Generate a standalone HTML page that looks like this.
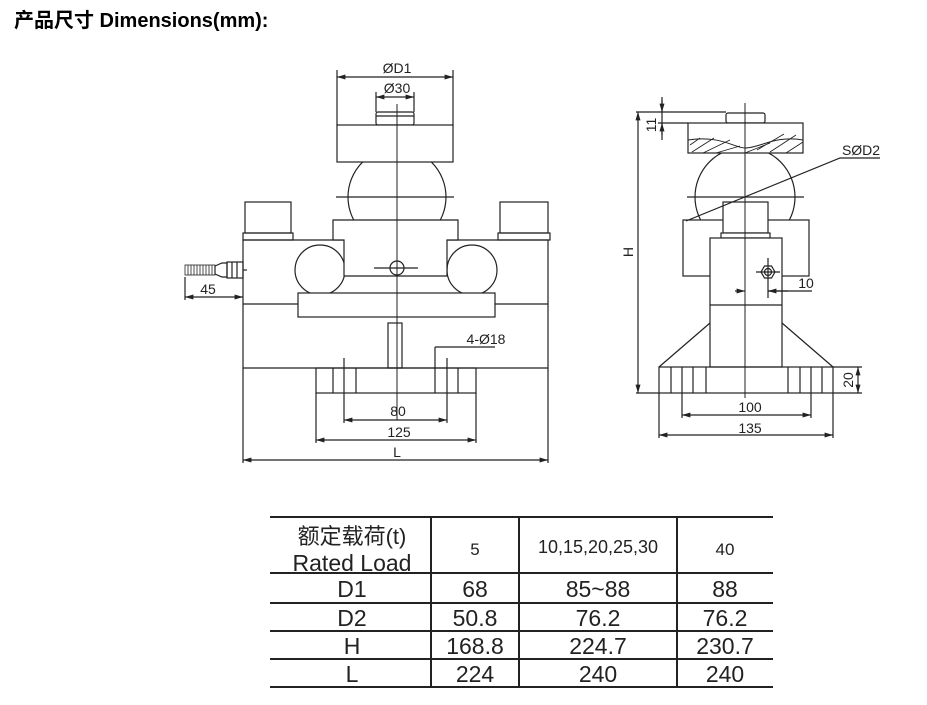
<!DOCTYPE html>
<html><head><meta charset="utf-8"><style>
html,body{margin:0;padding:0;background:#fff;width:927px;height:705px;overflow:hidden}
svg{display:block}
text{font-family:"Liberation Sans","Noto Sans CJK SC",sans-serif;fill:#222}
</style></head><body>
<svg width="927" height="705" viewBox="0 0 927 705" xmlns="http://www.w3.org/2000/svg">
<defs>
<marker id="a" viewBox="0 0 10 10" refX="10" refY="5" markerWidth="7" markerHeight="7" orient="auto-start-reverse"><path d="M0,2 L10,5 L0,8 z" fill="#222"/></marker>
</defs>
<text x="14" y="27" font-size="20" font-weight="bold" style="fill:#000">产品尺寸 Dimensions(mm):</text>

<g stroke="#222" stroke-width="1.2" fill="none">
<!-- LEFT VIEW -->
<circle cx="397" cy="197" r="49"/>
<line x1="337" y1="70" x2="337" y2="126"/><line x1="453" y1="70" x2="453" y2="126"/>
<line x1="337" y1="77" x2="453" y2="77" marker-start="url(#a)" marker-end="url(#a)"/>
<line x1="376" y1="92" x2="376" y2="112"/><line x1="414" y1="92" x2="414" y2="112"/>
<line x1="376" y1="97" x2="414" y2="97" marker-start="url(#a)" marker-end="url(#a)"/>
<rect x="376" y="112" width="38" height="13" rx="2" fill="#fff"/>
<line x1="376" y1="116" x2="414" y2="116"/>
<rect x="337" y="125" width="116" height="37" fill="#fff"/>
<line x1="336" y1="197" x2="454" y2="197"/>
<rect x="245" y="202" width="46" height="31"/>
<rect x="243" y="233" width="50" height="7"/>
<rect x="500" y="202" width="48" height="31"/>
<rect x="498" y="233" width="52" height="7"/>
<path d="M243,240 L548,240 L548,368 L243,368 Z"/>
<line x1="243" y1="304" x2="298" y2="304"/><line x1="495" y1="304" x2="548" y2="304"/>
<circle cx="320" cy="270" r="25"/>
<circle cx="472" cy="270" r="25"/>
<path d="M333,240 L333,220 L458,220 L458,240 L447,240 L447,276 L344,276 L344,240 Z" fill="#fff"/>
<rect x="298" y="293" width="197" height="24" fill="#fff"/>
<circle cx="397" cy="268" r="7"/>
<line x1="374" y1="268" x2="418" y2="268"/>
<rect x="388" y="323" width="14" height="45"/>
<rect x="316" y="368" width="160" height="25"/>
<line x1="333" y1="368" x2="333" y2="393"/><line x1="356" y1="368" x2="356" y2="393"/>
<line x1="435" y1="347" x2="435" y2="393"/><line x1="458" y1="368" x2="458" y2="393"/>
<line x1="344" y1="358" x2="344" y2="423"/><line x1="447" y1="358" x2="447" y2="423"/>
<line x1="435" y1="347" x2="495" y2="347"/>
<line x1="316" y1="393" x2="316" y2="443"/><line x1="476" y1="393" x2="476" y2="443"/>
<line x1="243" y1="368" x2="243" y2="463"/><line x1="548" y1="368" x2="548" y2="463"/>
<line x1="344" y1="420" x2="447" y2="420" marker-start="url(#a)" marker-end="url(#a)"/>
<line x1="316" y1="440" x2="476" y2="440" marker-start="url(#a)" marker-end="url(#a)"/>
<line x1="243" y1="460" x2="548" y2="460" marker-start="url(#a)" marker-end="url(#a)"/>
<line x1="397" y1="104" x2="397" y2="420" stroke-width="1"/>
<!-- cable -->
<rect x="185" y="265" width="30" height="10" stroke-width="0.8"/>
<path d="M188,265 v10 M191,265 v10 M194,265 v10 M197,265 v10 M200,265 v10 M203,265 v10 M206,265 v10 M209,265 v10 M212,265 v10" stroke-width="0.8"/>
<path d="M215,266 L222,263 L227,263 L227,277 L222,277 L215,274 Z"/>
<rect x="227" y="262" width="16" height="16"/>
<line x1="232" y1="262" x2="232" y2="278"/><line x1="237" y1="262" x2="237" y2="278"/>
<line x1="243" y1="270" x2="247" y2="270"/>
<line x1="185" y1="277" x2="185" y2="300"/>
<line x1="185" y1="297" x2="243" y2="297" marker-start="url(#a)" marker-end="url(#a)"/>

<!-- RIGHT VIEW -->
<circle cx="745" cy="197" r="50"/>
<rect x="726" y="113" width="39" height="10" rx="2" fill="#fff"/>
<rect x="688" y="123" width="115" height="30" fill="#fff"/>
<path d="M688,140 C720,135 735,148 745,148 C760,148 775,135 803,140" stroke-width="1"/>
<path d="M692,152 L714,138 M703,153 L730,140 M716,153 L740,146 M690,145 L700,138 M757,150 L784,134 M770,152 L796,135 M786,153 L803,142 M745,153 L770,143" stroke-width="0.9"/>
<line x1="687" y1="197" x2="804" y2="197"/>
<rect x="683" y="220" width="126" height="56" fill="#fff"/>
<rect x="723" y="202" width="45" height="31" fill="#fff"/>
<rect x="721" y="233" width="49" height="5" fill="#fff"/>
<rect x="710" y="238" width="72" height="129" fill="#fff"/>
<line x1="710" y1="305" x2="782" y2="305"/>
<path d="M710,323 L659,367 M782,323 L833,367"/>
<rect x="659" y="367" width="174" height="26"/>
<path d="M671,367v26 M693,367v26 M706,367v26 M788,367v26 M800,367v26 M822,367v26"/>
<line x1="682" y1="367" x2="682" y2="418"/><line x1="811" y1="367" x2="811" y2="418"/>
<line x1="659" y1="393" x2="659" y2="438"/><line x1="833" y1="393" x2="833" y2="438"/>
<line x1="682" y1="415" x2="811" y2="415" marker-start="url(#a)" marker-end="url(#a)"/>
<line x1="659" y1="435" x2="833" y2="435" marker-start="url(#a)" marker-end="url(#a)"/>
<polygon points="775,272 771.5,278 764.5,278 761,272 764.5,266 771.5,266"/>
<circle cx="768" cy="272" r="3.5"/>
<line x1="756" y1="272" x2="780" y2="272"/><line x1="768" y1="258" x2="768" y2="298"/>
<line x1="735" y1="291" x2="745" y2="291" marker-end="url(#a)"/>
<line x1="788" y1="291" x2="768" y2="291" marker-end="url(#a)"/>
<line x1="768" y1="291" x2="812" y2="291"/>
<path d="M686,221 L840,158 L880,158"/>
<line x1="745" y1="103" x2="745" y2="398" stroke-width="1"/>
<line x1="636" y1="112" x2="726" y2="112"/>
<line x1="636" y1="393" x2="659" y2="393"/>
<line x1="638" y1="112" x2="638" y2="393" marker-start="url(#a)" marker-end="url(#a)"/>
<line x1="662" y1="97" x2="662" y2="140"/>
<line x1="658" y1="123" x2="688" y2="123"/>
<line x1="662" y1="100" x2="662" y2="112" marker-end="url(#a)"/>
<line x1="662" y1="135" x2="662" y2="123" marker-end="url(#a)"/>
<line x1="833" y1="367" x2="862" y2="367"/><line x1="833" y1="393" x2="862" y2="393"/>
<line x1="858" y1="367" x2="858" y2="393" marker-start="url(#a)" marker-end="url(#a)"/>
</g>
<g font-size="14" text-anchor="middle">
<text x="397" y="73">ØD1</text>
<text x="397" y="93">Ø30</text>
<text x="208" y="294">45</text>
<text x="486" y="344">4-Ø18</text>
<text x="398" y="416">80</text>
<text x="399" y="437">125</text>
<text x="397" y="457">L</text>
<text x="861" y="155">SØD2</text>
<text x="806" y="288">10</text>
<text x="750" y="412">100</text>
<text x="750" y="433">135</text>
<text transform="translate(633,252) rotate(-90)">H</text>
<text transform="translate(656,125) rotate(-90)">11</text>
<text transform="translate(853,380) rotate(-90)">20</text>
</g>

<!-- TABLE -->
<g stroke="#222" stroke-width="2">
<line x1="270" y1="517" x2="773" y2="517"/>
<line x1="270" y1="573" x2="773" y2="573"/>
<line x1="270" y1="603" x2="773" y2="603"/>
<line x1="270" y1="631" x2="773" y2="631"/>
<line x1="270" y1="659" x2="773" y2="659"/>
<line x1="270" y1="687" x2="773" y2="687"/>
<line x1="431" y1="517" x2="431" y2="687"/>
<line x1="519" y1="517" x2="519" y2="687"/>
<line x1="677" y1="517" x2="677" y2="687"/>
</g>
<g text-anchor="middle" font-size="23">
<text x="352" y="544" font-size="22">额定载荷(t)</text>
<text x="352" y="571" font-size="23">Rated Load</text>
<text x="475" y="555" font-size="17">5</text>
<text x="598" y="553" font-size="18">10,15,20,25,30</text>
<text x="725" y="555" font-size="17">40</text>
<text x="352" y="597">D1</text><text x="475" y="597">68</text><text x="598" y="597">85~88</text><text x="725" y="597">88</text>
<text x="352" y="626">D2</text><text x="475" y="626">50.8</text><text x="598" y="626">76.2</text><text x="725" y="626">76.2</text>
<text x="352" y="654">H</text><text x="475" y="654">168.8</text><text x="598" y="654">224.7</text><text x="725" y="654">230.7</text>
<text x="352" y="682">L</text><text x="475" y="682">224</text><text x="598" y="682">240</text><text x="725" y="682">240</text>
</g>
</svg>
</body></html>
